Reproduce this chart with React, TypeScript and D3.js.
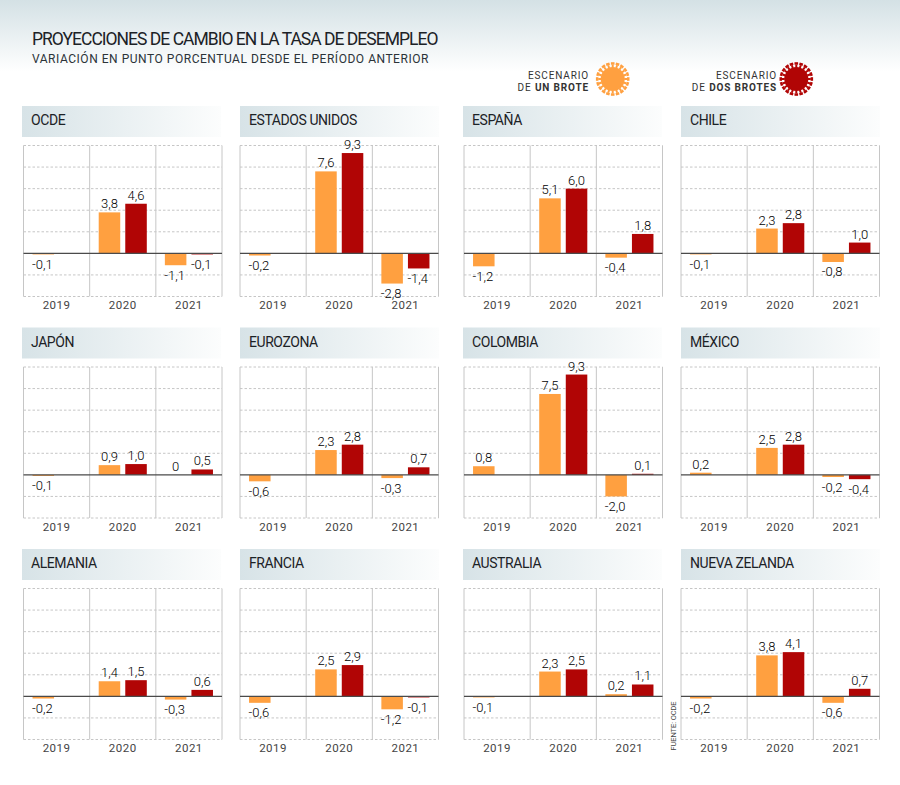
import React from 'react';
import * as d3 from 'd3';

const years = ['2019', '2020', '2021'];
const scenarios = ['uno', 'dos'];

const countries = [
  'OCDE', 'ESTADOS UNIDOS', 'ESPAÑA', 'CHILE',
  'JAPÓN', 'EUROZONA', 'COLOMBIA', 'MÉXICO',
  'ALEMANIA', 'FRANCIA', 'AUSTRALIA', 'NUEVA ZELANDA',
];

// 2019 (un solo dato), 2020 y 2021 para cada escenario
const values2019 = [-0.1, -0.2, -1.2, -0.1, -0.1, -0.6, 0.8, 0.2, -0.2, -0.6, -0.1, -0.2];
const unBrote2020 = [3.8, 7.6, 5.1, 2.3, 0.9, 2.3, 7.5, 2.5, 1.4, 2.5, 2.3, 3.8];
const dosBrotes2020 = [4.6, 9.3, 6.0, 2.8, 1.0, 2.8, 9.3, 2.8, 1.5, 2.9, 2.5, 4.1];
const unBrote2021 = [-1.1, -2.8, -0.4, -0.8, 0, -0.3, -2.0, -0.2, -0.3, -1.2, 0.2, -0.6];
const dosBrotes2021 = [-0.1, -1.4, 1.8, 1.0, 0.5, 0.7, 0.1, -0.4, 0.6, -0.1, 1.1, 0.7];

const colUno = '#ffa040';
const colDos = '#b10505';
const font = 'Roboto, sans-serif';

const panelX = [23.5, 240, 464, 681];
const headX = [22, 240, 463, 681];
const panelTop = [145.5, 367, 588.5];
const panelW = 198.5;
const panelH = 151;

const fmt = (v: number) => (v === 0 ? '0' : v.toFixed(1).replace('.', ','));

const y0 = d3.scaleLinear().domain([-4, 10]).range([panelH, 0]);
const xYear = d3.scaleBand<string>().domain(years).range([0, panelW]);
const xBar = d3.scaleBand<string>().domain(scenarios).range([0, xYear.bandwidth()]).paddingInner(0.19).paddingOuter(0.34);

function Panel({ i }: { i: number }) {
  const left = panelX[i % 4];
  const top = panelTop[Math.floor(i / 4)];
  const hx = headX[i % 4] - left;
  const bars = [
    { year: '2019', key: 'uno', v: values2019[i], color: colUno },
    { year: '2020', key: 'uno', v: unBrote2020[i], color: colUno },
    { year: '2020', key: 'dos', v: dosBrotes2020[i], color: colDos },
    { year: '2021', key: 'uno', v: unBrote2021[i], color: colUno },
    { year: '2021', key: 'dos', v: dosBrotes2021[i], color: colDos },
  ];
  const ticks = y0.ticks(7);
  return (
    <g transform={`translate(${left},${top})`}>
      <rect x={hx} y={-39.5} width={199} height={31} fill="url(#head)" />
      <text x={hx + 9} y={-20.5} fontSize={14} fill="#1c2226" letterSpacing={-0.43} fontFamily={font}>{countries[i]}</text>
      {ticks.filter(t => t !== 0).map(t => (
        <line key={t} x1={0} x2={panelW} y1={y0(t)} y2={y0(t)} stroke="#c6c6c6" strokeWidth={1} strokeDasharray="2.5 2" />
      ))}
      {[0, 1, 2, 3].map(k => (
        <line key={k} x1={k * xYear.step()} x2={k * xYear.step()} y1={0} y2={panelH} stroke="#c6c6c6" strokeWidth={1} />
      ))}
      {bars.map(b => {
        const bx = xYear(b.year)! + xBar(b.key)!;
        const top2 = y0(Math.max(b.v, 0));
        const h = Math.abs(y0(b.v) - y0(0));
        const ly = b.v < 0 ? y0(b.v) + 14.5 : y0(b.v) - 4;
        return (
          <g key={b.year + b.key}>
            <rect x={bx} y={top2} width={xBar.bandwidth()} height={h} fill={b.color} />
            <text x={bx + xBar.bandwidth() / 2 - (b.v < 0 ? 1 : 0)} y={ly} textAnchor="middle" fontSize={13} fill="#000" fontWeight={300} fontFamily={font}>{fmt(b.v)}</text>
          </g>
        );
      })}
      <line x1={0} x2={panelW} y1={y0(0)} y2={y0(0)} stroke="#4a4a4a" strokeWidth={1.1} />
      {years.map(yr => (
        <text key={yr} x={xYear(yr)! + xYear.bandwidth() / 2} y={panelH + 12.5} textAnchor="middle" fontSize={11.5} fill="#444" letterSpacing={0.5} fontFamily={font}>{yr}</text>
      ))}
    </g>
  );
}

function Virus({ cx, cy, color }: { cx: number; cy: number; color: string }) {
  const angles = d3.range(0, 360, 360 / 20);
  return (
    <g transform={`translate(${cx},${cy})`}>
      <circle r={12} fill={color} />
      {angles.map(a => (
        <g key={a} transform={`rotate(${a})`}>
          <line x1={0} x2={0} y1={-11.5} y2={-14.5} stroke={color} strokeWidth={2} />
          <line x1={0} x2={0} y1={-14.3} y2={-16.8} stroke={color} strokeWidth={3.6} />
        </g>
      ))}
    </g>
  );
}

const legendText = { textAnchor: 'end' as const, fontSize: 10, fill: '#333', letterSpacing: 0.85, fontFamily: font };

export default function App() {
  return (
    <svg width={900} height={785} viewBox="0 0 900 785" style={{ position: 'absolute', left: 0, top: 0, display: 'block' }}>
      <defs>
        <linearGradient id="band" x1="0" x2="0" y1="0" y2="1">
          <stop offset="0" stopColor="#d4e1e5" />
          <stop offset="1" stopColor="#ffffff" />
        </linearGradient>
        <linearGradient id="head" x1="0" x2="1" y1="0" y2="0">
          <stop offset="0" stopColor="#d7e3e7" />
          <stop offset="1" stopColor="#fcfdfd" />
        </linearGradient>
      </defs>
      <rect width={900} height={785} fill="#fff" />
      <rect width={900} height={72} fill="url(#band)" />
      <text x={32} y={45} fontSize={17.5} fill="#1c2226" letterSpacing={-0.99} fontFamily={font}>PROYECCIONES DE CAMBIO EN LA TASA DE DESEMPLEO</text>
      <text x={32} y={63} fontSize={12} fill="#2b3338" letterSpacing={0.53} fontFamily={font}>VARIACIÓN EN PUNTO PORCENTUAL DESDE EL PERÍODO ANTERIOR</text>

      <text x={589} y={79} {...legendText}>ESCENARIO</text>
      <text x={589} y={91} {...legendText}>DE <tspan fontWeight={700}>UN BROTE</tspan></text>
      <Virus cx={612.7} cy={79} color={colUno} />
      <text x={777} y={79} {...legendText}>ESCENARIO</text>
      <text x={777} y={91} {...legendText}>DE <tspan fontWeight={700}>DOS BROTES</tspan></text>
      <Virus cx={796.3} cy={79} color={colDos} />

      {countries.map((c, i) => <Panel key={c} i={i} />)}

      <text transform="translate(676,750.5) rotate(-90)" fontSize={7.5} fill="#444" letterSpacing={-0.1} fontFamily={font}>FUENTE: OCDE</text>
    </svg>
  );
}
